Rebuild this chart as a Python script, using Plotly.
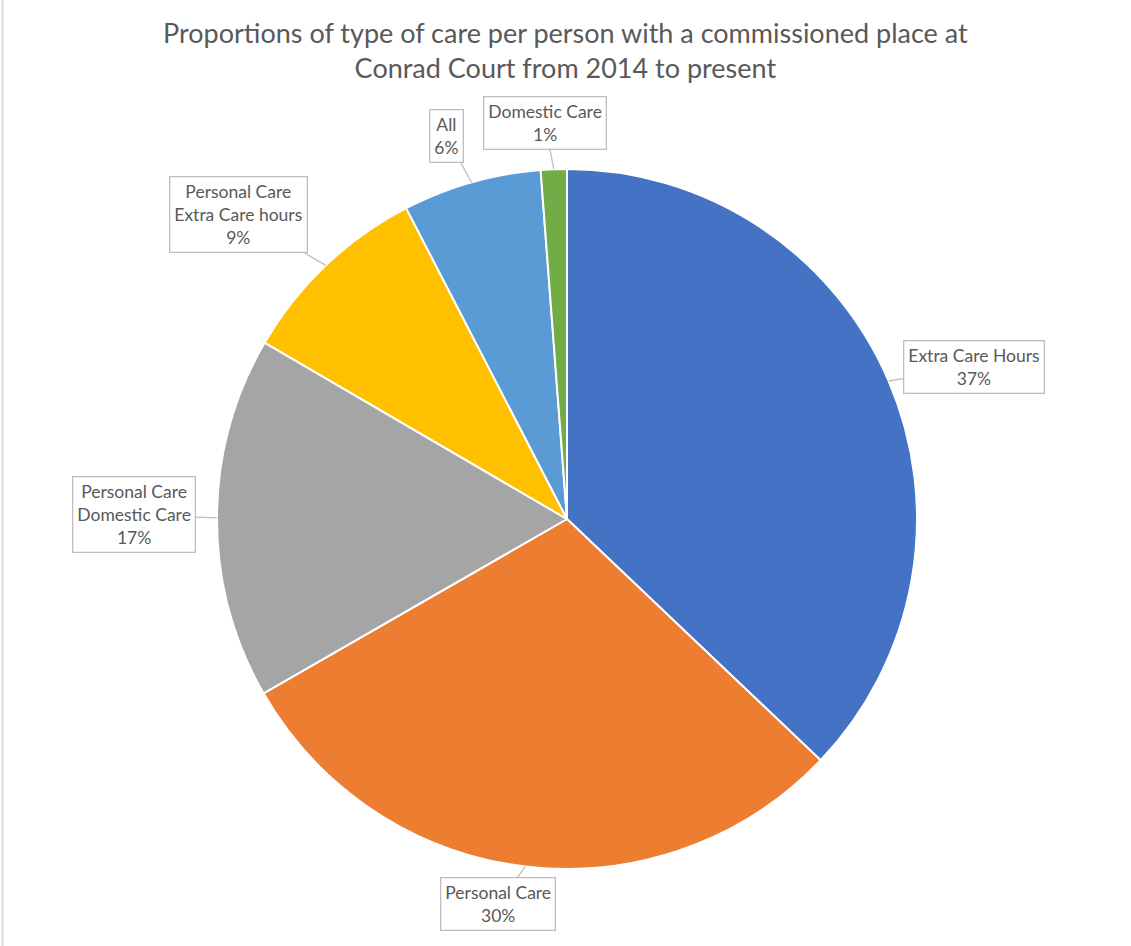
import math
import plotly.graph_objects as go

# Share of each care type (percent of people with a commissioned place)
categories = [
    "Extra Care Hours",
    "Personal Care",
    "Personal Care<br>Domestic Care",
    "Personal Care<br>Extra Care hours",
    "All",
    "Domestic Care",
]
shares = [37.1, 29.6, 16.7, 9.0, 6.4, 1.2]
colors = ["#4472C4", "#ED7D31", "#A5A5A5", "#FFC000", "#5B9BD5", "#70AD47"]

# Offsets (px) of each callout box from the slice edge it points at
label_dx = [85, -27, -83, -87, -25, -9]
label_dy = [-14, 37, -3, -51, -46, -46]

W, H = 1131, 946
CX, CY, R = 567, 519, 350  # pie centre and radius in pixels

fig = go.Figure(
    go.Pie(
        labels=categories,
        values=shares,
        sort=False,
        direction="clockwise",
        rotation=0,
        marker=dict(colors=colors, line=dict(color="white", width=2)),
        textinfo="none",
        hoverinfo="label+percent",
        domain=dict(
            x=[(CX - R) / W, (CX + R) / W],
            y=[1 - (CY + R) / H, 1 - (CY - R) / H],
        ),
        showlegend=False,
    )
)

# Callout labels anchored on the outer edge at each slice's mid-angle
total = sum(shares)
cum = 0.0
annotations = []
for name, v, dx, dy in zip(categories, shares, label_dx, label_dy):
    mid = (cum + v / 2) / total * 2 * math.pi
    cum += v
    px = CX + R * math.sin(mid)
    py = CY - R * math.cos(mid)
    annotations.append(
        dict(
            x=px / W,
            y=1 - py / H,
            xref="paper",
            yref="paper",
            text=f"{name}<br>{round(v / total * 100)}%",
            showarrow=True,
            arrowhead=0,
            arrowwidth=1.3,
            arrowcolor="#BFBFBF",
            ax=dx,
            ay=dy,
            bordercolor="#BFBFBF",
            borderwidth=1.3,
            borderpad=4,
            bgcolor="white",
            font=dict(family="Lato", size=17.5, color="#595959"),
            align="center",
        )
    )

# Chart title
annotations.append(
    dict(
        x=0.5,
        y=1 - 14 / H,
        xref="paper",
        yref="paper",
        xanchor="center",
        yanchor="top",
        showarrow=False,
        text="Proportions of type of care per person with a commissioned place at<br>Conrad Court from 2014 to present",
        font=dict(family="Lato", size=27, color="#595959"),
        align="center",
    )
)

fig.update_layout(
    width=W,
    height=H,
    margin=dict(l=0, r=0, t=0, b=0),
    paper_bgcolor="white",
    plot_bgcolor="white",
    annotations=annotations,
    shapes=[
        dict(
            type="line",
            xref="paper",
            yref="paper",
            x0=2.5 / W,
            x1=2.5 / W,
            y0=0,
            y1=1,
            line=dict(color="#D9D9D9", width=2),
        )
    ],
)

fig.write_html("out.html")
